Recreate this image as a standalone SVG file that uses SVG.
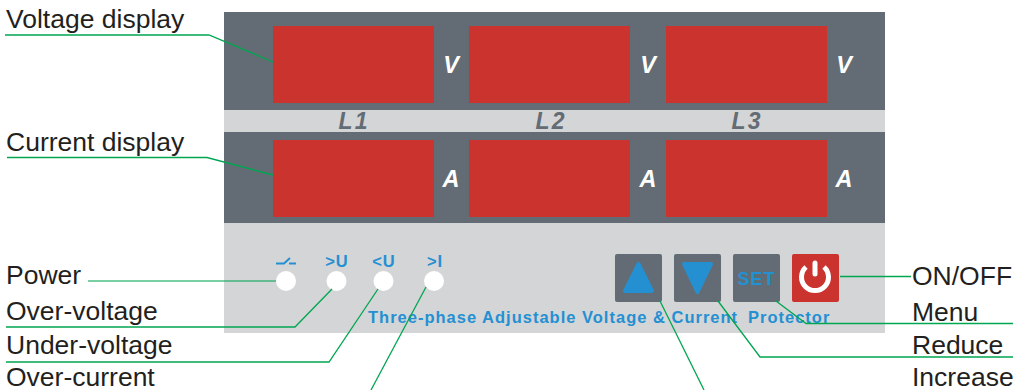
<svg xmlns="http://www.w3.org/2000/svg" width="1024" height="390" viewBox="0 0 1024 390">
<style>
.lab{font-family:"Liberation Sans",Arial,sans-serif;font-size:26.500px;fill:#231f20}
.unit{font-family:"Liberation Sans",Arial,sans-serif;font-size:23.500px;font-weight:bold;font-style:italic;fill:#fff;text-anchor:middle}
.ph{font-family:"Liberation Sans",Arial,sans-serif;font-size:23px;font-weight:bold;font-style:italic;fill:#636c74;text-anchor:middle;letter-spacing:2px}
.ind{font-family:"Liberation Sans",Arial,sans-serif;font-size:16.500px;font-weight:bold;fill:#2490d2;text-anchor:middle;letter-spacing:1px}
.disp{fill:#cb332e}
.led{fill:#fff}
.btn{fill:#636c74}
.c{fill:none;stroke:#00a651;stroke-width:1.3}
</style>
<g id="panel">
<rect x="224" y="12" width="661" height="321" fill="#d4d5d7"/>
<rect x="224" y="12" width="661" height="98" fill="#636c74"/>
<rect x="224" y="132" width="661" height="91" fill="#636c74"/>
</g>
<g id="voltage-displays">
<rect class="disp" x="273" y="26" width="161" height="77"/>
<rect class="disp" x="469" y="26" width="161" height="77"/>
<rect class="disp" x="666" y="26" width="161" height="77"/>
<text class="unit" x="451" y="73">V</text>
<text class="unit" x="648" y="73">V</text>
<text class="unit" x="844" y="73">V</text>
</g>
<g id="phase-labels">
<text class="ph" x="354" y="129">L1</text>
<text class="ph" x="551" y="129">L2</text>
<text class="ph" x="747" y="129">L3</text>
</g>
<g id="current-displays">
<rect class="disp" x="273" y="140" width="161" height="77"/>
<rect class="disp" x="469" y="140" width="161" height="77"/>
<rect class="disp" x="666" y="140" width="161" height="77"/>
<text class="unit" x="451" y="187">A</text>
<text class="unit" x="648" y="187">A</text>
<text class="unit" x="844" y="187">A</text>
</g>
<g id="indicators">
<path d="M276 263.500H284L290 258M289 263.500H296" fill="none" stroke="#2490d2" stroke-width="2"/>
<text class="ind" x="337" y="267">&gt;U</text>
<text class="ind" x="384" y="267">&lt;U</text>
<text class="ind" x="435" y="267">&gt;I</text>
<circle class="led" cx="286" cy="281" r="10"/>
<circle class="led" cx="336.500" cy="281" r="10"/>
<circle class="led" cx="383.500" cy="281" r="10"/>
<circle class="led" cx="434" cy="281" r="10"/>
</g>
<g id="title">
<text x="368" y="323" font-family="'Liberation Sans',Arial,sans-serif" font-size="16.500" font-weight="bold" fill="#2490d2" letter-spacing="1" xml:space="preserve">Three-phase Adjustable Voltage &amp; Current  <tspan x="748">Protector</tspan></text>
</g>
<g id="btn-up">
<rect class="btn" x="615" y="254" width="47" height="48" rx="2"/>
<path d="M638.500 264L625 291H652Z" fill="#2490d2" stroke="#2490d2" stroke-width="4" stroke-linejoin="round"/>
</g>
<g id="btn-down">
<rect class="btn" x="674" y="254" width="47" height="48" rx="2"/>
<path d="M684 264H711L697.500 292Z" fill="#2490d2" stroke="#2490d2" stroke-width="4" stroke-linejoin="round"/>
</g>
<g id="btn-set">
<rect class="btn" x="733" y="254" width="47" height="48" rx="2"/>
<text x="756.500" y="285" text-anchor="middle" font-family="'Liberation Sans',Arial,sans-serif" font-size="18" font-weight="bold" fill="#2490d2" letter-spacing="1">SET</text>
</g>
<g id="btn-power">
<rect x="792" y="254" width="47" height="48" rx="2" fill="#cb332e"/>
<path d="M806 267A13.500 13.500 0 1 0 824 267" fill="none" stroke="#fff" stroke-width="5"/>
<path d="M815 263V274" fill="none" stroke="#fff" stroke-width="5" stroke-linecap="round"/>
</g>
<g id="connectors">
<path class="c" d="M5 35H209L273 62"/>
<path class="c" d="M7 157.500H207L273 175"/>
<path class="c" d="M88 281H276" stroke-opacity=".7" stroke-width="2"/>
<path class="c" d="M6 327H295L332 289"/>
<path class="c" d="M6 362H329L378 289"/>
<path class="c" d="M371 390L426 287"/>
<path class="c" d="M704 390L660 301"/>
<path class="c" d="M1013 357H760L718 301"/>
<path class="c" d="M1013 323.500H806L776 301"/>
<path class="c" d="M840 276.500H911"/>
</g>
<g id="labels">
<text class="lab" x="6" y="28">Voltage display</text>
<text class="lab" x="6" y="151">Current display</text>
<text class="lab" x="6" y="283.500">Power</text>
<text class="lab" x="6" y="319.500">Over-voltage</text>
<text class="lab" x="6" y="353.500">Under-voltage</text>
<text class="lab" x="6" y="386">Over-current</text>
<text class="lab" x="912" y="285">ON/OFF</text>
<text class="lab" x="912" y="321">Menu</text>
<text class="lab" x="912" y="354">Reduce</text>
<text class="lab" x="912" y="386">Increase</text>
</g>
</svg>
